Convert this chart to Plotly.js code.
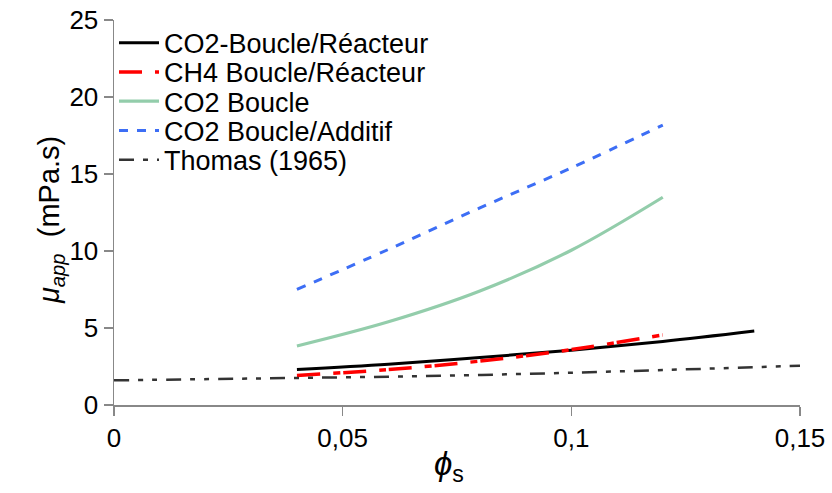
<!DOCTYPE html>
<html>
<head>
<meta charset="utf-8">
<script src="https://cdn.plot.ly/plotly-3.0.1.min.js"></script>
<style>
html,body{margin:0;padding:0;background:#fff;}
#chart{width:832px;height:493px;}
</style>
</head>
<body>
<div id="chart"></div>
<script>
// Series names
const seriesNames = ["CO2-Boucle/Réacteur", "CH4 Boucle/Réacteur", "CO2 Boucle", "CO2 Boucle/Additif", "Thomas (1965)"];

// CO2-Boucle/Réacteur
const xCO2Reac = [0.04, 0.06, 0.08, 0.10, 0.12, 0.14];
const yCO2Reac = [2.30, 2.64, 3.09, 3.55, 4.12, 4.80];

// CH4 Boucle/Réacteur
const xCH4Reac = [0.04, 0.06, 0.08, 0.10, 0.12];
const yCH4Reac = [1.92, 2.30, 2.85, 3.60, 4.55];

// CO2 Boucle
const xCO2Boucle = [0.04, 0.06, 0.08, 0.10, 0.12];
const yCO2Boucle = [3.83, 5.40, 7.40, 10.05, 13.49];

// CO2 Boucle/Additif
const xCO2Add = [0.04, 0.06, 0.08, 0.10, 0.12];
const yCO2Add = [7.51, 10.10, 12.80, 15.40, 18.18];

// Thomas (1965)
const xThomas = [0, 0.03, 0.06, 0.09, 0.12, 0.15];
const yThomas = [1.60, 1.72, 1.84, 2.02, 2.27, 2.55];

const xTicks = [0, 0.05, 0.1, 0.15];
const yTicks = [0, 5, 10, 15, 20, 25];

const xTitle = "<i>ϕ</i><sub>s</sub>";
const yTitle = "<i>μ</i><sub><i>app</i></sub>\u00A0\u00A0(mPa.s)";

const legendIds = ["legend", "legend2", "legend3", "legend4", "legend5"];
const legendRowY = [0.940, 0.864, 0.788, 0.712, 0.636];

const traces = [
  {x: xCO2Reac, y: yCO2Reac, name: seriesNames[0], mode: "lines", legend: legendIds[0],
   line: {color: "#000000", width: 3, shape: "spline"}},
  {x: xCH4Reac, y: yCH4Reac, name: seriesNames[1], mode: "lines", legend: legendIds[1],
   line: {color: "#ff0000", width: 3.5, dash: "23px,13px,7px,3px", shape: "spline"}},
  {x: xCO2Boucle, y: yCO2Boucle, name: seriesNames[2], mode: "lines", legend: legendIds[2],
   line: {color: "#93cdab", width: 3.2, shape: "spline"}},
  {x: xCO2Add, y: yCO2Add, name: seriesNames[3], mode: "lines", legend: legendIds[3],
   line: {color: "#3d6ef5", width: 3, dash: "9px,9px", shape: "spline"}},
  {x: xThomas, y: yThomas, name: seriesNames[4], mode: "lines", legend: legendIds[4],
   line: {color: "#333333", width: 2.5, dash: "15px,9px,5px,9px,5px,9px", shape: "spline"}}
];

const layout = {
  width: 832, height: 493,
  margin: {l: 114, r: 32, t: 20, b: 88, pad: 0},
  paper_bgcolor: "#ffffff", plot_bgcolor: "#ffffff",
  separators: ", ",
  font: {family: "Arial, 'Liberation Sans', sans-serif", color: "#000000", size: 24},
  showlegend: true,
  xaxis: {
    range: [0, 0.15], tickvals: xTicks,
    showgrid: false, zeroline: false,
    showline: true, linecolor: "#888888", linewidth: 1.5,
    ticks: "outside", ticklen: 9, tickcolor: "#888888", tickwidth: 1.5,
    tickfont: {size: 26}
  },
  yaxis: {
    range: [0, 25], tickvals: yTicks,
    showgrid: false, zeroline: false,
    showline: true, linecolor: "#888888", linewidth: 1.5,
    ticks: "outside", ticklen: 9, tickcolor: "#888888", tickwidth: 1.5,
    ticksuffix: "\u00A0",
    tickfont: {size: 26}
  },
  annotations: [
    {text: xTitle, xref: "paper", yref: "paper", x: 0.488, y: -0.158,
     xanchor: "center", yanchor: "middle", showarrow: false, font: {size: 33}},
    {text: yTitle, xref: "paper", yref: "paper", x: -0.092, y: 0.48, textangle: -90,
     xanchor: "center", yanchor: "middle", showarrow: false, font: {size: 29}}
  ]
};

legendIds.forEach(function (id, i) {
  layout[id] = {x: 0.0, y: legendRowY[i], xanchor: "left", yanchor: "middle",
                font: {size: 27, color: "#000000"}, bgcolor: "rgba(0,0,0,0)",
                itemwidth: 40, borderwidth: 0};
});

Plotly.newPlot("chart", traces, layout, {staticPlot: true, displayModeBar: false});
</script>
</body>
</html>
